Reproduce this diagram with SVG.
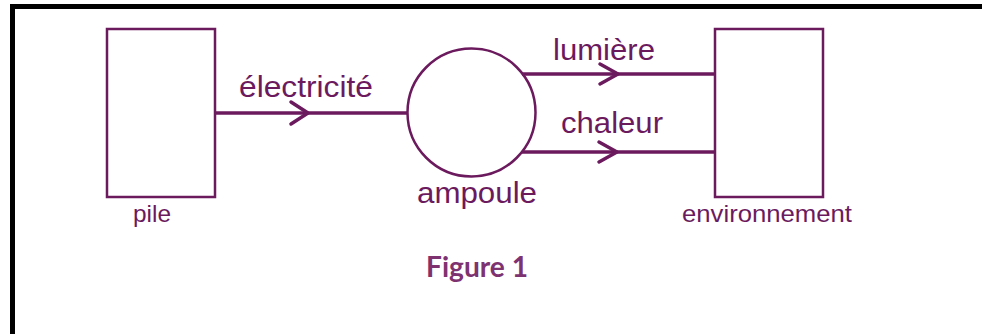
<svg xmlns="http://www.w3.org/2000/svg" width="982" height="334" viewBox="0 0 982 334">
<style>
.box{fill:none;stroke:#6c1a5e;stroke-width:2.5}
.wire{fill:none;stroke:#6c1a5e;stroke-width:3.5}
.chev{fill:none;stroke:#6c1a5e;stroke-width:3.5;stroke-linecap:round;stroke-linejoin:round}
.lbl{font-family:"Liberation Sans",Arial,sans-serif;fill:#6c1a5e}
.cap{font-family:Lato,"Open Sans",sans-serif;font-weight:bold;fill:#7e3270}
</style>
<rect x="0" y="0" width="982" height="334" fill="#ffffff"/>
<g id="frame">
<path d="M12.5 334 V6.5 H982" fill="none" stroke="#000000" stroke-width="5"/>
</g>
<g id="pile">
<rect class="box" x="107" y="29" width="108" height="168"/>
<text class="lbl" x="133" y="222" font-size="24" textLength="38" lengthAdjust="spacingAndGlyphs">pile</text>
</g>
<g id="ampoule">
<circle class="box" cx="471.5" cy="112.5" r="64" stroke-width="3"/>
<text class="lbl" x="417" y="203" font-size="29" textLength="120" lengthAdjust="spacingAndGlyphs">ampoule</text>
</g>
<g id="environnement">
<rect class="box" x="715" y="29" width="108" height="168"/>
<text class="lbl" x="682" y="222" font-size="24" textLength="170" lengthAdjust="spacingAndGlyphs">environnement</text>
</g>
<g id="connectors">
<line class="wire" x1="215" y1="113" x2="407.5" y2="113"/>
<polyline class="chev" points="291,102 308,113 291,124"/>
<text class="lbl" x="239" y="97" font-size="29" textLength="134" lengthAdjust="spacingAndGlyphs">électricité</text>
<line class="wire" x1="522" y1="74" x2="715" y2="74"/>
<polyline class="chev" points="600,64 618,74 600,84"/>
<text class="lbl" x="553" y="60" font-size="29" textLength="102" lengthAdjust="spacingAndGlyphs">lumière</text>
<line class="wire" x1="522" y1="152" x2="715" y2="152"/>
<polyline class="chev" points="599,142 617,152 599,162"/>
<text class="lbl" x="561" y="133" font-size="29" textLength="102" lengthAdjust="spacingAndGlyphs">chaleur</text>
</g>
<g id="caption">
<text class="cap" x="426" y="277" font-size="29" textLength="102" lengthAdjust="spacingAndGlyphs">Figure 1</text>
</g>
</svg>
